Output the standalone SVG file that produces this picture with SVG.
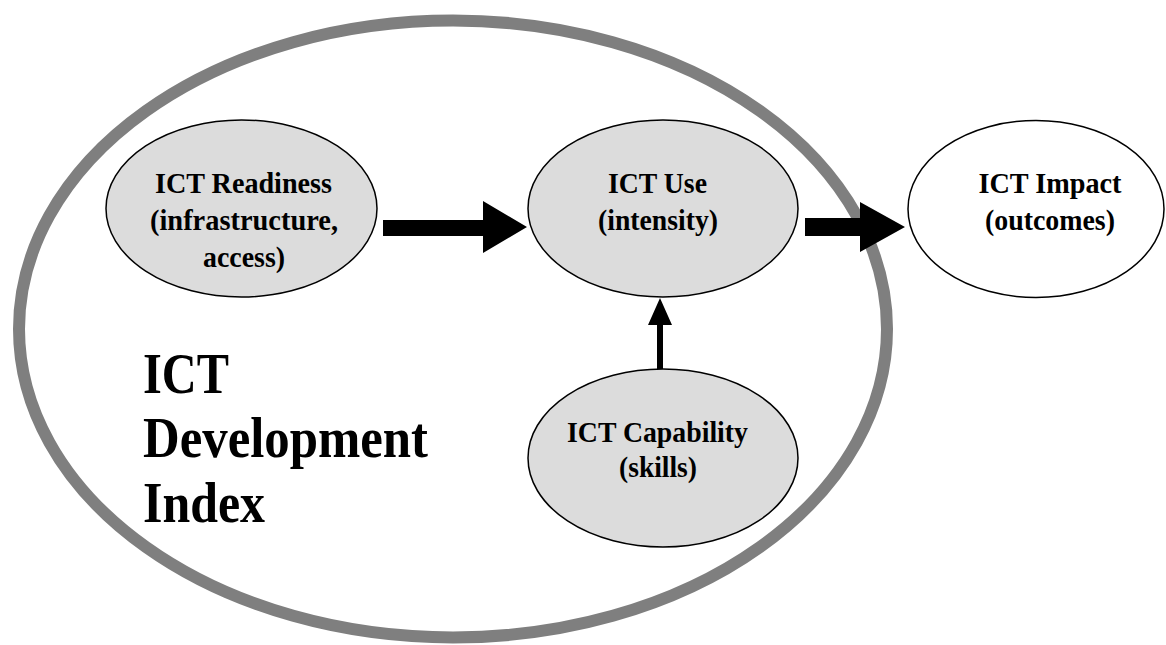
<svg xmlns="http://www.w3.org/2000/svg" width="1166" height="645" viewBox="0 0 1166 645">
<style>
  .node { fill: #dcdcdc; stroke: #000; stroke-width: 1.5; }
  .node-white { fill: #fff; stroke: #000; stroke-width: 1.5; }
  .lbl { font-family: "Liberation Serif", "Times New Roman", serif; font-weight: bold; font-size: 29px; fill: #000; text-anchor: middle; lengthAdjust: spacingAndGlyphs; }
  .big { font-family: "Liberation Serif", "Times New Roman", serif; font-weight: bold; font-size: 56px; fill: #000; }
  .arrow { fill: #000; stroke: none; }
</style>
<rect x="0" y="0" width="1166" height="645" fill="#fff"/>
<g id="idi-boundary">
  <ellipse cx="453" cy="329" rx="434" ry="308.5" fill="none" stroke="#7f7f7f" stroke-width="12"/>
</g>
<g id="idi-label">
  <text class="big" x="143" y="393" textLength="86" lengthAdjust="spacingAndGlyphs">ICT</text>
  <text class="big" x="143" y="457" textLength="285" lengthAdjust="spacingAndGlyphs">Development</text>
  <text class="big" x="143" y="522" textLength="122" lengthAdjust="spacingAndGlyphs">Index</text>
</g>
<g id="connectors">
  <polygon class="arrow" points="383,220 483,220 483,201 527,227 483,253 483,236 383,236"/>
  <polygon class="arrow" points="805,218 860,218 860,202 905,227 860,252 860,236 805,236"/>
  <polygon class="arrow" points="657,369 657,325 648,325 660,298 672,325 663,325 663,369"/>
</g>
<g id="node-readiness">
  <ellipse class="node" cx="241.5" cy="208.5" rx="135.5" ry="88.5"/>
  <text class="lbl" x="243.5" y="193" textLength="177" lengthAdjust="spacingAndGlyphs">ICT Readiness</text>
  <text class="lbl" x="244" y="230" textLength="188" lengthAdjust="spacingAndGlyphs">(infrastructure,</text>
  <text class="lbl" x="244" y="267" textLength="82" lengthAdjust="spacingAndGlyphs">access)</text>
</g>
<g id="node-use">
  <ellipse class="node" cx="663" cy="208.5" rx="135" ry="88.5"/>
  <text class="lbl" x="657.5" y="193" textLength="99" lengthAdjust="spacingAndGlyphs">ICT Use</text>
  <text class="lbl" x="658" y="230" textLength="120" lengthAdjust="spacingAndGlyphs">(intensity)</text>
</g>
<g id="node-impact">
  <ellipse class="node-white" cx="1036" cy="209" rx="128" ry="88.5"/>
  <text class="lbl" x="1050" y="193" textLength="143" lengthAdjust="spacingAndGlyphs">ICT Impact</text>
  <text class="lbl" x="1050" y="230" textLength="130" lengthAdjust="spacingAndGlyphs">(outcomes)</text>
</g>
<g id="node-capability">
  <ellipse class="node" cx="663" cy="458" rx="135" ry="89"/>
  <text class="lbl" x="657.5" y="442" textLength="181" lengthAdjust="spacingAndGlyphs">ICT Capability</text>
  <text class="lbl" x="658" y="477" textLength="78" lengthAdjust="spacingAndGlyphs">(skills)</text>
</g>
</svg>
